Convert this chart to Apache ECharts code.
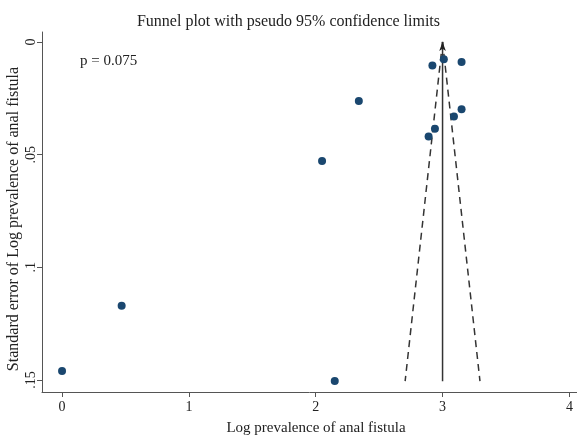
<!DOCTYPE html>
<html>
<head>
<meta charset="utf-8">
<script src="https://cdn.jsdelivr.net/npm/echarts@6/dist/echarts.min.js"></script>
<style>html,body{margin:0;padding:0;background:#fff}#c{width:577px;height:435px}</style>
</head>
<body>
<div id="c"></div>
<script>
// Study estimates: log prevalence (x) and its standard error (y)
const logPrev = [0.00, 0.47, 2.15, 2.05, 2.34, 2.92, 3.01, 3.15, 3.15, 3.09, 2.94, 2.89];
const stdErr  = [0.146, 0.117, 0.1504, 0.0528, 0.0262, 0.0105, 0.0077, 0.0089, 0.0299, 0.0331, 0.0385, 0.0420];
// Pooled estimate line and pseudo 95% limits (endpoints)
const pooledLine = [[3.0, 0.0], [3.0, 0.1505]];
const lowerLimit = [[3.0, 0.0], [2.705, 0.1505]];
const upperLimit = [[3.0, 0.0], [3.295, 0.1505]];
const xTicks = [0, 1, 2, 3, 4];
const yTicks = [0, 0.05, 0.1, 0.15];
const yTickLabels = ['0', '.05', '.1', '.15'];
const titleText = 'Funnel plot with pseudo 95% confidence limits';
const xName = 'Log prevalence of anal fistula';
const yName = 'Standard error of Log prevalence of anal fistula';
const pText = 'p = 0.075';

const FONT = 'Liberation Serif';
const chart = echarts.init(document.getElementById('c'), null, {renderer: 'canvas'});
const points = logPrev.map((v, i) => [v, stdErr[i]]);
chart.setOption({
  animation: false,
  backgroundColor: '#fff',
  title: {
    text: titleText, left: 'center', top: 9,
    textStyle: {fontFamily: FONT, fontSize: 16, fontWeight: 'normal', color: '#222'}
  },
  grid: {left: 42, right: 0, top: 32, bottom: 43, containLabel: false, outerBoundsMode: 'none'},
  xAxis: {
    type: 'value', min: -0.158, max: 4.06,
    name: xName, nameLocation: 'middle', nameGap: 29,
    nameTextStyle: {fontFamily: FONT, fontSize: 15, color: '#222', padding: [0, 0, 0, 13]},
    axisLine: {show: true, onZero: false, lineStyle: {color: '#555', width: 1}},
    axisTick: {show: true, customValues: xTicks, length: 5, lineStyle: {color: '#555'}},
    axisLabel: {customValues: xTicks, margin: 8, fontFamily: FONT, fontSize: 14, color: '#222'},
    splitLine: {show: false}
  },
  yAxis: {
    type: 'value', inverse: true, min: -0.0044, max: 0.1553,
    axisLine: {show: true, onZero: false, lineStyle: {color: '#555', width: 1}},
    axisTick: {show: true, customValues: yTicks, length: 5, lineStyle: {color: '#555'}},
    axisLabel: {
      customValues: yTicks, rotate: 90, margin: 4, fontFamily: FONT, fontSize: 14, color: '#222',
      formatter: v => { const i = yTicks.findIndex(t => Math.abs(t - v) < 1e-9); return i >= 0 ? yTickLabels[i] : ''; }
    },
    splitLine: {show: false}
  },
  graphic: [
    {
      type: 'text', left: 80, top: 54,
      style: {text: pText, fontFamily: FONT, fontSize: 15, fill: '#222'}
    },
    {
      type: 'text', x: 14, y: 219, rotation: Math.PI / 2,
      style: {text: yName, fontFamily: FONT, fontSize: 16, fill: '#222', align: 'center', verticalAlign: 'middle'}
    }
  ],
  series: [
    {type: 'line', data: lowerLimit, symbol: 'none', lineStyle: {color: '#333', width: 1.5, type: [7, 5]}, z: 2},
    {type: 'line', data: upperLimit, symbol: 'none', lineStyle: {color: '#333', width: 1.5, type: [7, 5]}, z: 2},
    {type: 'line', data: [
        {value: pooledLine[0], symbol: 'arrow', symbolSize: [5, 9], itemStyle: {color: '#222'}},
        {value: pooledLine[1], symbol: 'none'}
      ],
      lineStyle: {color: '#333', width: 1.5}, z: 3},
    {type: 'scatter', data: points, symbolSize: 8, itemStyle: {color: '#1a476f', opacity: 1}, z: 4}
  ]
});
</script>
</body>
</html>
